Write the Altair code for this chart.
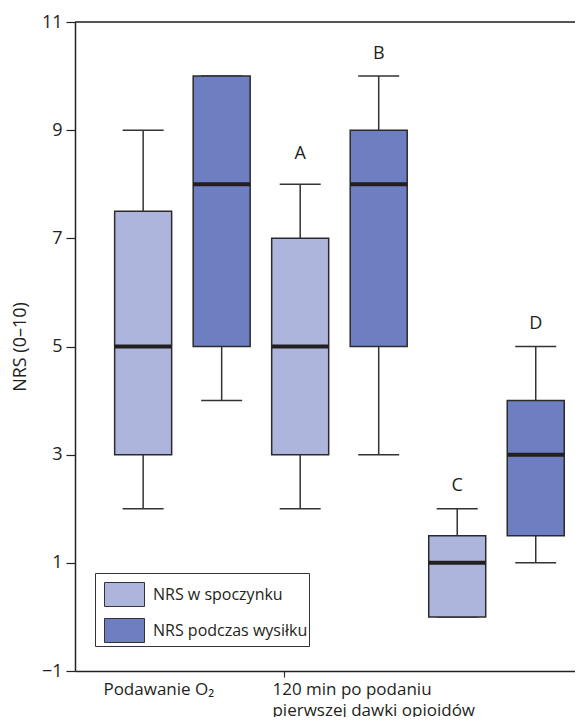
import altair as alt
import pandas as pd

groups = ["Podawanie O₂", "120 min po podaniu|pierwszej dawki opioidów", " "]
series = ["NRS w spoczynku", "NRS podczas wysiłku"]

# per box (group, series order)
box_group = [groups[0], groups[0], groups[1], groups[1], groups[2], groups[2]]
box_series = [series[0], series[1], series[0], series[1], series[0], series[1]]
mins = [2, 4, 2, 3, 0, 1]
q1s = [3, 5, 3, 5, 0, 1.5]
medians = [5, 8, 5, 8, 1, 3]
q3s = [7.5, 10, 7, 9, 1.5, 4]
maxs = [9, 10, 8, 10, 2, 5]

letter_group = [groups[1], groups[1], groups[2], groups[2]]
letter_series = [series[0], series[1], series[0], series[1]]
letters = ["A", "B", "C", "D"]
letter_y = [8.4, 10.25, 2.25, 5.25]

y_ticks = [-1, 1, 3, 5, 7, 9, 11]

colors = ["#adb5dd", "#6e7fc1"]
FONT = "Open Sans"
INK = "#231f20"

df = pd.DataFrame({
    "group": box_group, "series": box_series, "min": mins, "q1": q1s,
    "median": medians, "q3": q3s, "max": maxs,
})
dl = pd.DataFrame({"group": letter_group, "series": letter_series,
                   "letter": letters, "y": letter_y})

x_enc = alt.X("group:N", sort=groups,
              scale=alt.Scale(domain=groups, paddingInner=0, paddingOuter=0.092, align=1),
              axis=alt.Axis(
                  title=None, labelAlign="left", labelAngle=0,
                  labelExpr="split(datum.label, '|')", labelLimit=400,
                  labelFont=FONT, labelFontSize=17, labelColor=INK,
                  labelOffset={"expr": f"datum.value == '{groups[1]}' ? -12 : -24"},
                  labelPadding=4, labelLineHeight=21,
                  tickOffset=-55.5, tickSize=6, tickColor="#333", tickWidth=1.2,
                  tickOpacity={"expr": f"datum.value == '{groups[1]}' ? 1 : 0"},
                  domainColor="#222", domainWidth=1.5, labelBaseline="top",
              ))
xo_enc = alt.XOffset("series:N", sort=series,
                     scale=alt.Scale(domain=series, paddingInner=0.274, paddingOuter=0.137))
y_scale = alt.Scale(domain=[-1, 11], nice=False, zero=False)

base = alt.Chart(df)

whisker = base.mark_rule(color="#333", strokeWidth=1.5).encode(
    x=x_enc, xOffset=xo_enc,
    y=alt.Y("min:Q", scale=y_scale, axis=alt.Axis(
        title="NRS (0–10)", values=y_ticks, format="d",
        labelExpr="replace(datum.label, '-', '−')",
        labelFont=FONT, labelFontSize=18, labelColor=INK, labelPadding=4,
        titleFont=FONT, titleFontSize=18, titleFontWeight="normal", titleColor=INK,
        titleX=-55, titleY=324.5, titleAngle=-90, titleAlign="center",
        titleBaseline="middle",
        tickSize=9, tickColor="#222", tickWidth=1.2,
        domainColor="#222", domainWidth=1.5, grid=False)),
    y2="max:Q",
)
cap_lo = base.mark_tick(color="#333", size=41, thickness=1.5, opacity=1).encode(
    x=alt.X("group:N", sort=groups), xOffset=xo_enc, y=alt.Y("min:Q"))
cap_hi = base.mark_tick(color="#333", size=41, thickness=1.5, opacity=1).encode(
    x=alt.X("group:N", sort=groups), xOffset=xo_enc, y=alt.Y("max:Q"))
box = base.mark_bar(stroke="#2b2b2b", strokeWidth=1.5, opacity=1).encode(
    x=alt.X("group:N", sort=groups), xOffset=xo_enc,
    y=alt.Y("q1:Q"), y2="q3:Q",
    color=alt.Color("series:N", sort=series,
                    scale=alt.Scale(domain=series, range=colors),
                    legend=alt.Legend(title=None, orient="none", legendX=20, legendY=551,
                                      fillColor="white", strokeColor="#333",
                                      padding=1, symbolOffset=8,
                                      symbolType="M-1,-0.6H1V0.6H-1Z", symbolSize=1600,
                                      symbolStrokeColor="#333", symbolStrokeWidth=1,
                                      symbolOpacity=1,
                                      labelFont=FONT, labelFontSize=16, labelColor=INK,
                                      labelOffset=8, rowPadding=1)),
)
med = base.mark_tick(color=INK, size=57, thickness=4, opacity=1).encode(
    x=alt.X("group:N", sort=groups), xOffset=xo_enc, y=alt.Y("median:Q"))
top_border = alt.Chart(pd.DataFrame({"v": [y_ticks[-1]]})).mark_rule(
    color="#222", strokeWidth=1.5).encode(y=alt.Y("v:Q"))
txt = alt.Chart(dl).mark_text(font=FONT, fontSize=18, color=INK, baseline="bottom").encode(
    x=alt.X("group:N", sort=groups), xOffset=xo_enc, y=alt.Y("y:Q"), text="letter:N")

chart = alt.layer(whisker, cap_lo, cap_hi, box, med, top_border, txt).properties(
    width=500, height=649,
    autosize=alt.AutoSizeParams(type="none"),
    padding={"left": 67, "top": 14, "right": 0, "bottom": 46},
).configure_view(fill="#e8eaf4", stroke=None).configure(background="white")

chart.save("out.html", embed_options={"renderer": "svg", "actions": False})
